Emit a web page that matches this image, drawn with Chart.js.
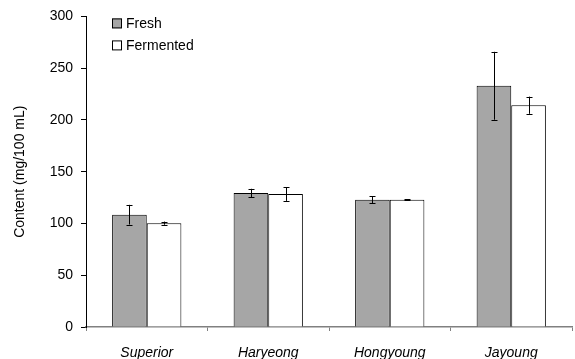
<!DOCTYPE html>
<html>
<head>
<meta charset="utf-8">
<script src="https://cdn.jsdelivr.net/npm/chart.js"></script>
<style>
  html, body { margin: 0; padding: 0; background: #fff; }
  #wrap { width: 575px; height: 359px; position: relative; }
</style>
</head>
<body>
<div id="wrap"><canvas id="chart"></canvas></div>
<script>
// data
const categories = ['Superior', 'Haryeong', 'Hongyoung', 'Jayoung'];
const freshValues = [108.5, 129.5, 123, 233];
const freshErr = [9.5, 4, 3.4, 32.8];
const fermentedValues = [100.3, 128.5, 123, 214.2];
const fermentedErr = [1.5, 6.7, 0.6, 8.3];
const yTicks = [0, 50, 100, 150, 200, 250, 300];

const FONT = 'Arial, "Liberation Sans", sans-serif';

// error bars drawn through the scales
const errorBars = {
    id: 'errorBars',
    afterDatasetsDraw(chart) {
        const ctx = chart.ctx;
        const y = chart.scales.y;
        const errs = [freshErr, fermentedErr];
        ctx.save();
        ctx.strokeStyle = '#000';
        ctx.lineWidth = 1;
        chart.data.datasets.forEach((ds, i) => {
            chart.getDatasetMeta(i).data.forEach((bar, j) => {
                const v = ds.data[j];
                const e = errs[i][j];
                const x = Math.round(bar.x) + 0.5;
                const yt = y.getPixelForValue(v + e);
                const yb = y.getPixelForValue(v - e);
                ctx.beginPath();
                ctx.moveTo(x, yt); ctx.lineTo(x, yb);
                ctx.moveTo(x - 3, Math.round(yt) + 0.5); ctx.lineTo(x + 3, Math.round(yt) + 0.5);
                ctx.moveTo(x - 3, Math.round(yb) + 0.5); ctx.lineTo(x + 3, Math.round(yb) + 0.5);
                ctx.stroke();
            });
        });
        ctx.restore();
    }
};

// legend in the upper left corner of the plot
const insideLegend = {
    id: 'insideLegend',
    afterDraw(chart) {
        const ctx = chart.ctx;
        const left = chart.chartArea.left + 26;
        const top = chart.chartArea.top + 2;
        ctx.save();
        ctx.font = '14px ' + FONT;
        ctx.textBaseline = 'middle';
        chart.data.datasets.forEach((ds, i) => {
            const yy = top + i * 22;
            ctx.fillStyle = ds.backgroundColor;
            ctx.fillRect(left, yy, 10, 10);
            ctx.strokeStyle = '#000';
            ctx.lineWidth = 1;
            ctx.strokeRect(left + 0.5, yy + 0.5, 9, 9);
            ctx.fillStyle = '#000';
            ctx.fillText(ds.label, left + 14, yy + 5.5);
        });
        ctx.restore();
    }
};

new Chart(document.getElementById('chart'), {
    type: 'bar',
    data: {
        labels: categories,
        datasets: [
            { label: 'Fresh', data: freshValues, backgroundColor: '#a6a6a6', borderColor: '#000', borderWidth: 1 },
            { label: 'Fermented', data: fermentedValues, backgroundColor: '#ffffff', borderColor: '#000', borderWidth: 1 }
        ]
    },
    options: {
        responsive: true,
        maintainAspectRatio: false,
        animation: false,
        layout: { padding: { top: 8, right: 3, left: 12, bottom: 0 } },
        datasets: { bar: { categoryPercentage: 0.57, barPercentage: 1.0 } },
        plugins: { legend: { display: false }, tooltip: { enabled: false } },
        scales: {
            x: {
                afterFit: (s) => { s.height = 32; },
                grid: { display: true, drawOnChartArea: false, drawTicks: true, tickLength: 4, color: '#808080', offset: true },
                border: { display: true, color: '#808080', width: 1.5 },
                ticks: { color: '#000', font: { family: FONT, size: 14, style: 'italic' }, padding: 14, maxRotation: 0 }
            },
            y: {
                min: 0,
                max: 300,
                afterBuildTicks: (s) => { s.ticks = yTicks.map(v => ({ value: v })); },
                afterFit: (s) => { s.width = 74; },
                grid: { display: true, drawOnChartArea: false, drawTicks: true, tickLength: 5, color: '#000' },
                border: { display: true, color: '#000', width: 1 },
                ticks: { color: '#000', font: { family: FONT, size: 14 }, padding: 8 },
                title: { display: true, text: 'Content (mg/100 mL)', color: '#000', font: { family: FONT, size: 14 }, padding: 0 }
            }
        }
    },
    plugins: [errorBars, insideLegend]
});
</script>
</body>
</html>
